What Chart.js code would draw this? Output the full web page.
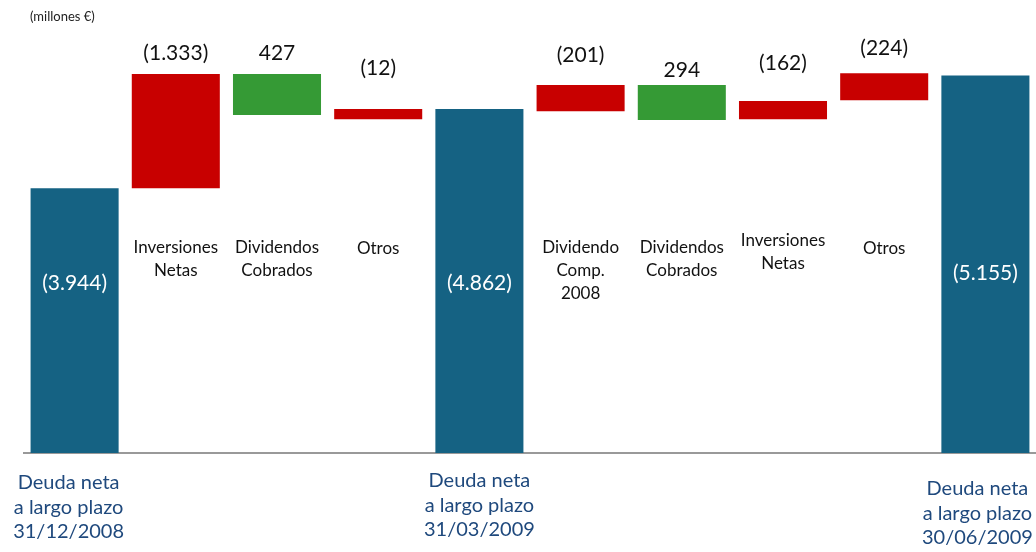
<!DOCTYPE html>
<html>
<head>
<meta charset="utf-8">
<script src="https://cdn.jsdelivr.net/npm/chart.js@4.4.1/dist/chart.umd.min.js"></script>
<style>
  html, body { margin: 0; padding: 0; background: #fff; }
  #wrap { width: 1036px; height: 552px; position: relative; }
</style>
</head>
<body>
<div id="wrap"><canvas id="waterfall"></canvas></div>
<script>
// --- data (millones €) ---
const categories = [
    'Deuda neta 31/12/2008', 'Inversiones Netas', 'Dividendos Cobrados', 'Otros',
    'Deuda neta 31/03/2009', 'Dividendo Comp. 2008', 'Dividendos Cobrados',
    'Inversiones Netas', 'Otros', 'Deuda neta 30/06/2009'
];
const xTickLabels = [
    ['Deuda neta', 'a largo plazo', '31/12/2008'], null, null, null,
    ['Deuda neta', 'a largo plazo', '31/03/2009'], null, null, null, null,
    ['Deuda neta', 'a largo plazo', '30/06/2009']
];
const barNames = [
    null, ['Inversiones', 'Netas'], ['Dividendos', 'Cobrados'], ['Otros'],
    null, ['Dividendo', 'Comp.', '2008'], ['Dividendos', 'Cobrados'],
    ['Inversiones', 'Netas'], ['Otros'], null
];
// bar extents as drawn in the picture
const barLow  = [0, 3620, 4620, 4560, 0, 4670, 4550, 4560, 4820, 0];
const barHigh = [3620, 5180, 5180, 4700, 4700, 5030, 5030, 4810, 5190, 5160];
const valueLabels = ['(3.944)', '(1.333)', '427', '(12)', '(4.862)', '(201)', '294', '(162)', '(224)', '(5.155)'];
const barKind = ['total', 'neg', 'pos', 'neg', 'total', 'neg', 'pos', 'neg', 'neg', 'total'];

const kindColors = { total: '#156283', neg: '#c80000', pos: '#359a35' };
const FONT = 'Lato, "Open Sans", sans-serif';

const waterfallLabels = {
    id: 'waterfallLabels',
    afterDatasetsDraw(chart, args, opts) {
        const ctx = chart.ctx;
        const meta = chart.getDatasetMeta(0);
        ctx.save();
        ctx.textAlign = 'center';
        ctx.textBaseline = 'middle';
        meta.data.forEach((bar, i) => {
            if (barKind[i] === 'total') {
                ctx.fillStyle = '#ffffff';
                ctx.font = '21px ' + FONT;
                ctx.fillText(valueLabels[i], bar.x, opts.innerY[i]);
                // category label below the axis
                ctx.fillStyle = '#1f497d';
                ctx.font = '20px ' + FONT;
                xTickLabels[i].forEach((line, k) => {
                    ctx.fillText(line, bar.x + opts.tickDx[i], opts.tickY[i] + k * 24.5);
                });
            } else {
                ctx.fillStyle = '#111111';
                ctx.font = '21px ' + FONT;
                ctx.fillText(valueLabels[i], bar.x, bar.y - opts.lift[i]);
                ctx.font = '17px ' + FONT;
                barNames[i].forEach((line, k) => {
                    ctx.fillText(line, bar.x, opts.nameY[i] + k * 23);
                });
            }
        });
        // unit note
        ctx.textAlign = 'left';
        ctx.fillStyle = '#222222';
        ctx.font = '13px ' + FONT;
        ctx.fillText('(millones €)', 30, 17);
        ctx.restore();
    }
};

new Chart(document.getElementById('waterfall'), {
    type: 'bar',
    data: {
        labels: categories,
        datasets: [{
            data: barLow.map((lo, i) => [lo, barHigh[i]]),
            backgroundColor: barKind.map(k => kindColors[k]),
            borderWidth: 0,
            borderSkipped: false,
            barPercentage: 0.87,
            categoryPercentage: 1
        }]
    },
    options: {
        responsive: true,
        maintainAspectRatio: false,
        animation: false,
        layout: { padding: { top: 14, left: 24, right: 0, bottom: 99 } },
        scales: {
            x: {
                grid: { display: false, drawTicks: false },
                border: { display: true, color: '#999999', width: 2 },
                ticks: { display: false }
            },
            y: { display: false, min: 0, max: 6000 }
        },
        plugins: {
            legend: { display: false },
            tooltip: { enabled: false },
            waterfallLabels: {
                lift: [0, 21, 21, 41, 0, 30, 15, 38, 25, 0],
                innerY: [283, 0, 0, 0, 283, 0, 0, 0, 0, 273],
                nameY: [0, 248, 248, 249, 0, 248, 248, 241, 249, 0],
                tickDx: [-6, 0, 0, 0, 0, 0, 0, 0, 0, -8],
                tickY: [483, 0, 0, 0, 481, 0, 0, 0, 0, 489]
            }
        }
    },
    plugins: [waterfallLabels]
});
</script>
</body>
</html>
